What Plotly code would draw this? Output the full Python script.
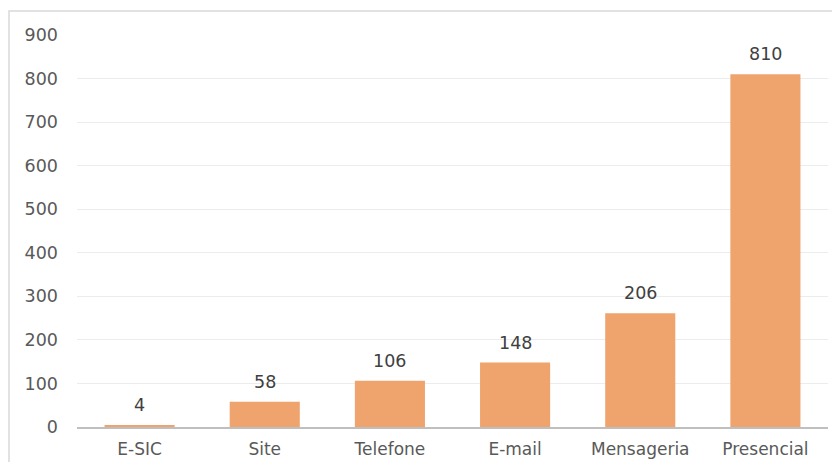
import plotly.graph_objects as go

categories = ["E-SIC", "Site", "Telefone", "E-mail", "Mensageria", "Presencial"]
values = [4, 58, 106, 148, 261, 810]
value_labels = ["4", "58", "106", "148", "206", "810"]
y_ticks = [0, 100, 200, 300, 400, 500, 600, 700, 800, 900]

# page body has an 8px default margin; size the figure so the page fits the window
W, H = 824, 454
L, R, T, B = 69, 4, 27, 35
pw = W - L - R
ph = H - T - B

FONT = "DejaVu Sans"
TXT = "#595959"

fig = go.Figure()
fig.add_trace(go.Bar(
    x=categories, y=values,
    marker=dict(color="#F0A46D", line=dict(width=0)),
    width=0.56,
    hoverinfo="skip",
))

for c, v, t in zip(categories, values, value_labels):
    fig.add_annotation(x=c, y=v, text=t, showarrow=False, yanchor="bottom",
                       yshift=8, font=dict(family=FONT, size=17.5, color="#404040"))

# outer chart frame
fig.add_shape(type="rect", xref="paper", yref="paper",
              x0=(1 - L) / pw, x1=(W + 10 - L) / pw,
              y0=-(H + 10 - T - ph) / ph, y1=1 + (T - 3) / ph,
              line=dict(color="#d9d9d9", width=1.5), layer="below")

fig.update_layout(
    width=W, height=H,
    margin=dict(l=L, r=R, t=T, b=B),
    paper_bgcolor="white", plot_bgcolor="white",
    showlegend=False,
    font=dict(family=FONT, size=17.5, color=TXT),
    xaxis=dict(showgrid=False, showline=True, linecolor="#bfbfbf", linewidth=2,
               automargin=False,
               ticks="", ticklabelstandoff=6, tickfont=dict(size=17, color=TXT)),
    yaxis=dict(range=[0, 900], tickvals=y_ticks, showgrid=True, automargin=False,
               gridcolor="#ececec", gridwidth=1, zeroline=False, showline=False,
               ticks="", ticklabelstandoff=18, tickfont=dict(size=17.5, color=TXT)),
)

fig.write_html("out.html")
